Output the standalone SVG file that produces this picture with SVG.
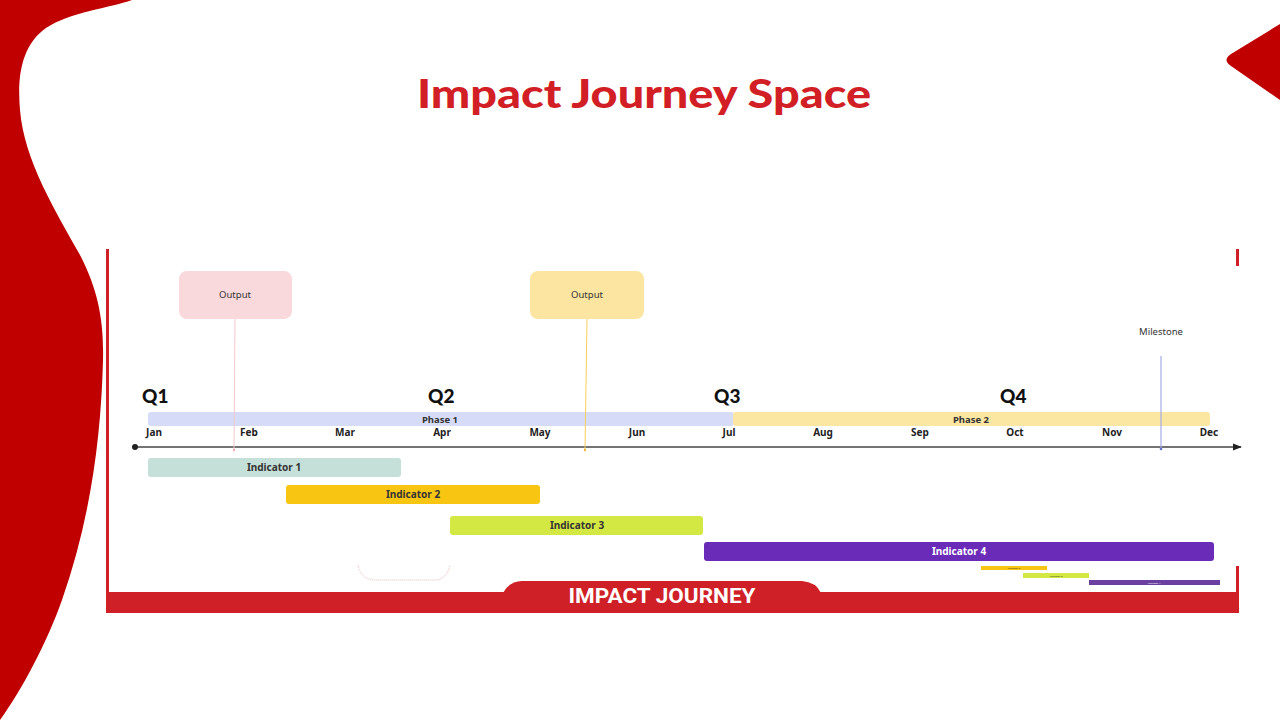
<svg xmlns="http://www.w3.org/2000/svg" width="1280" height="720" viewBox="0 0 1280 720">
  <defs>
    <style>
      .red{fill:#c00000}
      .frame{fill:#cf2027}
      .q{font-family:"Lato","Liberation Sans",sans-serif;font-weight:900;font-size:19px;fill:#111}
      .mon{font-family:"Noto Sans","Open Sans",sans-serif;font-weight:700;font-size:10px;fill:#222;text-anchor:middle}
      .ph{font-family:"Noto Sans","Open Sans",sans-serif;font-weight:700;font-size:9.5px;fill:#333;text-anchor:middle}
      .ind{font-family:"Noto Sans","Open Sans",sans-serif;font-weight:700;font-size:10px;fill:#333;text-anchor:middle}
      .lbl{font-family:"Noto Sans","Open Sans",sans-serif;font-size:9.5px;fill:#333;text-anchor:middle}
      .tiny{font-family:"Noto Sans",sans-serif;font-size:2.5px;fill:#333;text-anchor:middle}
    </style>
    <marker id="arr" viewBox="0 0 10 10" refX="9" refY="5" markerWidth="6" markerHeight="6" orient="auto">
      <path d="M0,1 L10,5 L0,9 Z" fill="#222"/>
    </marker>
    <marker id="dot" viewBox="0 0 10 10" refX="5" refY="5" markerWidth="4" markerHeight="4">
      <circle cx="5" cy="5" r="5" fill="#222"/>
    </marker>
  </defs>

  <rect width="1280" height="720" fill="#ffffff"/>

  <!-- decorative shapes -->
  <path class="red" d="M0,0 L132,0 C110,8 70,12 46,28 C22,45 17,75 20,110 C24,160 55,210 80,255 C98,290 104,320 103,360 C101,440 90,520 62,600 C48,640 22,690 0,720 Z"/>
  <path class="red" d="M1280,24 L1231,54 Q1222,60 1231,66 L1280,100 Z"/>

  <!-- frame -->
  <g id="frame">
    <rect class="frame" x="106" y="249" width="3" height="364"/>
    <rect class="frame" x="106" y="592" width="1133" height="21"/>
    <rect class="frame" x="1236" y="566" width="3" height="30"/>
    <rect class="frame" x="1236" y="249" width="3" height="17"/>
    <path class="frame" d="M503,593 Q508,582 522,581 L802,581 Q816,582 821,593 Z"/>
    <text x="662" y="603" text-anchor="middle" font-family="Roboto,'Liberation Sans',sans-serif" font-weight="700" font-size="20" fill="#ffffff" textLength="187" lengthAdjust="spacingAndGlyphs">IMPACT JOURNEY</text>
  </g>

  <text x="644" y="108" text-anchor="middle" font-family="Lato,'Noto Sans',sans-serif" font-weight="900" font-size="40" fill="#d21f26" textLength="454" lengthAdjust="spacingAndGlyphs">Impact Journey Space</text>

  <!-- phases -->
  <g id="phase1">
    <rect x="148" y="412" width="586" height="14" rx="3" fill="#d6dcf8"/>
    <text class="ph" x="440" y="423">Phase 1</text>
  </g>
  <g id="phase2">
    <rect x="733" y="412" width="477" height="14" rx="3" fill="#fbe7a1"/>
    <text class="ph" x="971" y="423">Phase 2</text>
  </g>

  <!-- quarters -->
  <g id="quarters">
    <text class="q" x="142" y="403">Q1</text>
    <text class="q" x="428" y="403">Q2</text>
    <text class="q" x="714" y="403">Q3</text>
    <text class="q" x="1000" y="403">Q4</text>
  </g>

  <!-- months -->
  <g id="months">
    <text class="mon" x="154" y="436">Jan</text>
    <text class="mon" x="249" y="436">Feb</text>
    <text class="mon" x="345" y="436">Mar</text>
    <text class="mon" x="442" y="436">Apr</text>
    <text class="mon" x="540" y="436">May</text>
    <text class="mon" x="637" y="436">Jun</text>
    <text class="mon" x="729" y="436">Jul</text>
    <text class="mon" x="823" y="436">Aug</text>
    <text class="mon" x="920" y="436">Sep</text>
    <text class="mon" x="1015" y="436">Oct</text>
    <text class="mon" x="1112" y="436">Nov</text>
    <text class="mon" x="1209" y="436">Dec</text>
  </g>

  <!-- connectors -->
  <g id="connectors">
    <line x1="135" y1="447" x2="1241" y2="447" stroke="#444" stroke-width="1.5" marker-start="url(#dot)" marker-end="url(#arr)"/>
    <line x1="235" y1="319" x2="234" y2="450" stroke="#f3c9cc" stroke-width="1"/>
    <line x1="587" y1="319" x2="585" y2="450" stroke="#f7cf5a" stroke-width="1"/>
    <line x1="1161" y1="356" x2="1161" y2="450" stroke="#a5abe6" stroke-width="1.2"/>
    <circle cx="1161" cy="449" r="1.3" fill="#6670d0"/>
    <circle cx="585" cy="450" r="1.2" fill="#f2b632"/>
    <circle cx="234" cy="450" r="1.2" fill="#eeaaae"/>
  </g>

  <!-- outputs / milestone -->
  <g id="output1">
    <rect x="179" y="271" width="113" height="48" rx="8" fill="#f9d9dc"/>
    <text class="lbl" x="235" y="298">Output</text>
  </g>
  <g id="output2">
    <rect x="530" y="271" width="114" height="48" rx="8" fill="#fbe5a0"/>
    <text class="lbl" x="587" y="298">Output</text>
  </g>
  <g id="milestone">
    <text class="lbl" x="1161" y="335">Milestone</text>
  </g>

  <!-- indicators -->
  <g id="indicator1">
    <rect x="148" y="458" width="253" height="19" rx="3" fill="#c5e0d8"/>
    <text class="ind" x="274" y="471">Indicator 1</text>
  </g>
  <g id="indicator2">
    <rect x="286" y="485" width="254" height="19" rx="3" fill="#f8c512"/>
    <text class="ind" x="413" y="498">Indicator 2</text>
  </g>
  <g id="indicator3">
    <rect x="450" y="516" width="253" height="19" rx="3" fill="#d3e843"/>
    <text class="ind" x="577" y="529">Indicator 3</text>
  </g>
  <g id="indicator4">
    <rect x="704" y="542" width="510" height="19" rx="3" fill="#6a2bb8"/>
    <text class="ind" x="959" y="555" style="fill:#ffffff">Indicator 4</text>
  </g>

  <!-- mini bars -->
  <g id="mini">
    <rect x="981" y="566" width="66" height="4" fill="#f8c512"/>
    <text class="tiny" x="1014" y="569">Indicator 2</text>
    <rect x="1023" y="573" width="66" height="5" fill="#d3e843"/>
    <text class="tiny" x="1056" y="576.5">Indicator 3</text>
    <rect x="1089" y="580" width="131" height="5" fill="#6a3fa0"/>
    <text class="tiny" x="1154" y="583.5" style="fill:#ffffff">Indicator 4</text>
  </g>

  <path d="M358,565 Q361,580 376,580 L434,580 Q447,580 450,565" fill="none" stroke="#e4a5ab" stroke-width="0.8" stroke-dasharray="1,1"/>
</svg>
